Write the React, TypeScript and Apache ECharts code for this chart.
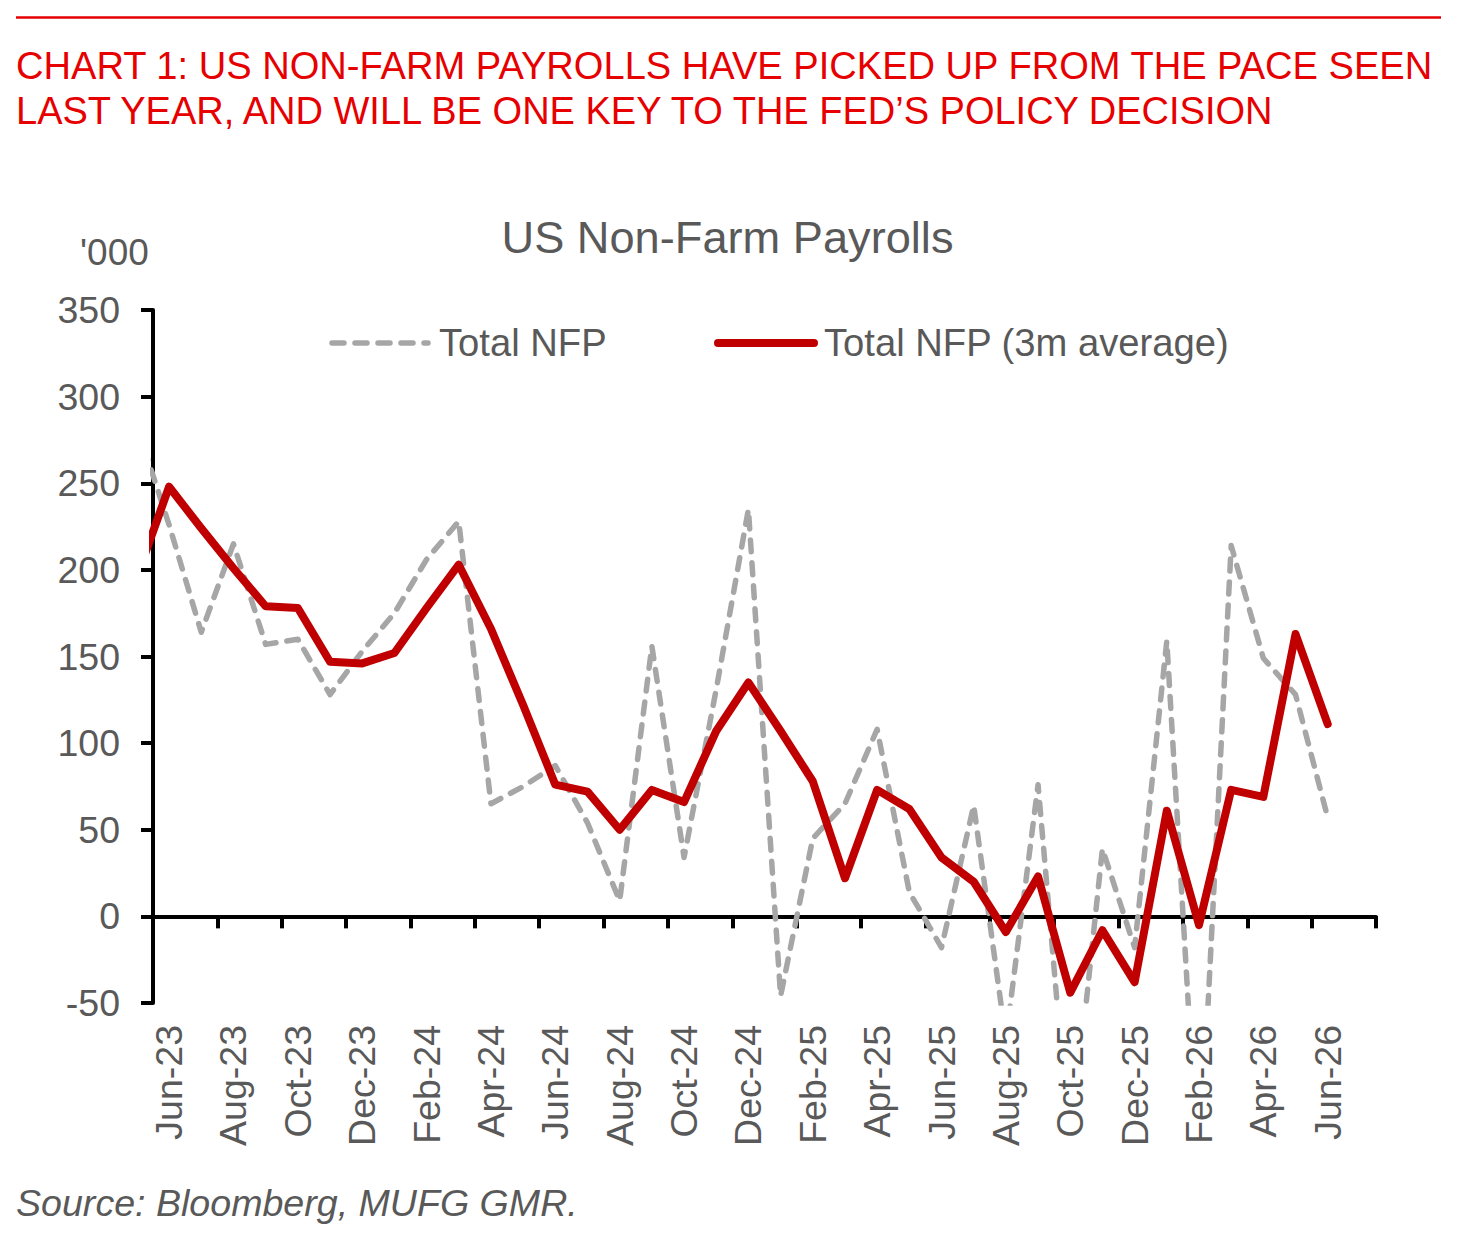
import React, { useEffect, useRef } from "react";
import * as echarts from "echarts";

// Axis categories (label axis): Jun-23 .. Jul-26
const axisMonths = [
  "Jun-23", "Jul-23", "Aug-23", "Sep-23", "Oct-23", "Nov-23", "Dec-23",
  "Jan-24", "Feb-24", "Mar-24", "Apr-24", "May-24", "Jun-24", "Jul-24", "Aug-24", "Sep-24", "Oct-24", "Nov-24", "Dec-24",
  "Jan-25", "Feb-25", "Mar-25", "Apr-25", "May-25", "Jun-25", "Jul-25", "Aug-25", "Sep-25", "Oct-25", "Nov-25", "Dec-25",
  "Jan-26", "Feb-26", "Mar-26", "Apr-26", "May-26", "Jun-26", "Jul-26",
];

// Data months: May-23 .. Jun-26 (first one sits just left of the plot and is clipped)
const dataMonths = [
  "May-23", "Jun-23", "Jul-23", "Aug-23", "Sep-23", "Oct-23", "Nov-23", "Dec-23",
  "Jan-24", "Feb-24", "Mar-24", "Apr-24", "May-24", "Jun-24", "Jul-24", "Aug-24", "Sep-24", "Oct-24", "Nov-24", "Dec-24",
  "Jan-25", "Feb-25", "Mar-25", "Apr-25", "May-25", "Jun-25", "Jul-25", "Aug-25", "Sep-25", "Oct-25", "Nov-25", "Dec-25",
  "Jan-26", "Feb-26", "Mar-26", "Apr-26", "May-26", "Jun-26",
];

const totalNfp = [
  283, 226, 164, 215, 157, 160, 128, 153,
  175, 206, 228, 65, 75, 87, 54, 9, 156, 34, 131, 235,
  -46, 45, 65, 108, 14, -18, 64, -71, 76, -137, 39, -18,
  159, -155, 214, 149, 128, 57,
];

const totalNfp3m = [
  196, 248, 224, 201, 179, 178, 147, 146,
  152, 178, 203, 166, 122, 76, 72, 50, 73, 66, 107, 135,
  107, 78, 22, 73, 62, 34, 20, -9, 23, -44, -8, -38,
  61, -5, 73, 69, 163, 111,
];

const yMin = -50;
const yMax = 350;
const yInterval = 50;

const seriesNames = ["Total NFP", "Total NFP (3m average)"];

const FONT = '"Liberation Sans", Arial, sans-serif';
const TEXT_GREY = "#595959";
const RED_HEAD = "#E60000";
const RED_LINE = "#C00000";
const GREY_LINE = "#A6A6A6";

function toPoints(values: number[]) {
  // position of each month on the category scale (May-23 -> -1)
  const firstIdx = axisMonths.indexOf(dataMonths[1]) - 1;
  return values.map((v, i) => [firstIdx + i, v]);
}

export default function App() {
  const ref = useRef<HTMLDivElement>(null);

  useEffect(() => {
    if (!ref.current) return;
    const chart = echarts.init(ref.current, undefined, { renderer: "svg" });
    const n = axisMonths.length;
    const option: any = {
      animation: false,
      backgroundColor: "#ffffff",
      grid: { left: 153, top: 310, width: 1223, height: 693, containLabel: false },
      xAxis: [
        {
          type: "value",
          position: "bottom",
          min: -0.5,
          max: n - 0.5,
          interval: 2,
          axisLine: { show: true, onZero: true, lineStyle: { color: "#000", width: 4 } },
          axisTick: { show: true, inside: false, length: 12, lineStyle: { color: "#000", width: 4 } },
          axisLabel: { show: false },
          splitLine: { show: false },
        },
        {
          type: "category",
          position: "bottom",
          data: axisMonths,
          boundaryGap: true,
          axisLine: { show: false, onZero: false },
          axisTick: { show: false },
          axisLabel: {
            interval: 1,
            rotate: 90,
            margin: 22,
            fontSize: 37.5,
            fontFamily: FONT,
            color: TEXT_GREY,
          },
          splitLine: { show: false },
        },
      ],
      yAxis: {
        type: "value",
        min: yMin,
        max: yMax,
        interval: yInterval,
        axisLine: { show: true, onZero: false, lineStyle: { color: "#000", width: 4 } },
        axisTick: { show: true, inside: false, length: 12, lineStyle: { color: "#000", width: 4 } },
        axisLabel: { margin: 33, fontSize: 37.5, fontFamily: FONT, color: TEXT_GREY },
        splitLine: { show: false },
      },
      series: [
        {
          name: seriesNames[0],
          type: "line",
          xAxisIndex: 0,
          data: toPoints(totalNfp),
          symbol: "none",
          clip: true,
          z: 2,
          lineStyle: { color: GREY_LINE, width: 5.5, type: [12, 11], cap: "round", join: "round" },
        },
        {
          name: seriesNames[1],
          type: "line",
          xAxisIndex: 0,
          data: toPoints(totalNfp3m),
          symbol: "none",
          clip: true,
          z: 3,
          lineStyle: { color: RED_LINE, width: 8, cap: "round", join: "round" },
        },
      ],
      graphic: [
        {
          type: "line",
          shape: { x1: 16, y1: 17.5, x2: 1441, y2: 17.5 },
          style: { stroke: RED_HEAD, lineWidth: 2.5 },
        },
        {
          type: "text",
          x: 16,
          y: 65.5,
          style: {
            text: "CHART 1: US NON-FARM PAYROLLS HAVE PICKED UP FROM THE PACE SEEN",
            fill: RED_HEAD,
            font: `38.1px ${FONT}`,
            textAlign: "left",
            textVerticalAlign: "middle",
          },
        },
        {
          type: "text",
          x: 16,
          y: 110.5,
          style: {
            text: "LAST YEAR, AND WILL BE ONE KEY TO THE FED’S POLICY DECISION",
            fill: RED_HEAD,
            font: `38px ${FONT}`,
            textAlign: "left",
            textVerticalAlign: "middle",
          },
        },
        {
          type: "text",
          x: 727.5,
          y: 237,
          style: {
            text: "US Non-Farm Payrolls",
            fill: TEXT_GREY,
            font: `45.2px ${FONT}`,
            textAlign: "center",
            textVerticalAlign: "middle",
          },
        },
        {
          type: "text",
          x: 80,
          y: 252,
          style: {
            text: "'000",
            fill: TEXT_GREY,
            font: `37px ${FONT}`,
            textAlign: "left",
            textVerticalAlign: "middle",
          },
        },
        {
          type: "line",
          shape: { x1: 332, y1: 343, x2: 428, y2: 343 },
          style: { stroke: GREY_LINE, lineWidth: 5.5, lineDash: [12, 11], lineCap: "round" },
        },
        {
          type: "text",
          x: 439,
          y: 342,
          style: {
            text: seriesNames[0],
            fill: TEXT_GREY,
            font: `38.2px ${FONT}`,
            textAlign: "left",
            textVerticalAlign: "middle",
          },
        },
        {
          type: "line",
          shape: { x1: 718, y1: 343, x2: 814, y2: 343 },
          style: { stroke: RED_LINE, lineWidth: 8, lineCap: "round" },
        },
        {
          type: "text",
          x: 824,
          y: 342,
          style: {
            text: seriesNames[1],
            fill: TEXT_GREY,
            font: `38.2px ${FONT}`,
            textAlign: "left",
            textVerticalAlign: "middle",
          },
        },
        {
          type: "text",
          x: 16,
          y: 1203,
          style: {
            text: "Source: Bloomberg, MUFG GMR.",
            fill: TEXT_GREY,
            font: `italic 37.6px ${FONT}`,
            textAlign: "left",
            textVerticalAlign: "middle",
          },
        },
      ],
    };
    chart.setOption(option);
    return () => chart.dispose();
  }, []);

  return (
    <div
      ref={ref}
      style={{ position: "absolute", left: 0, top: 0, width: 1471, height: 1241, background: "#fff" }}
    />
  );
}
